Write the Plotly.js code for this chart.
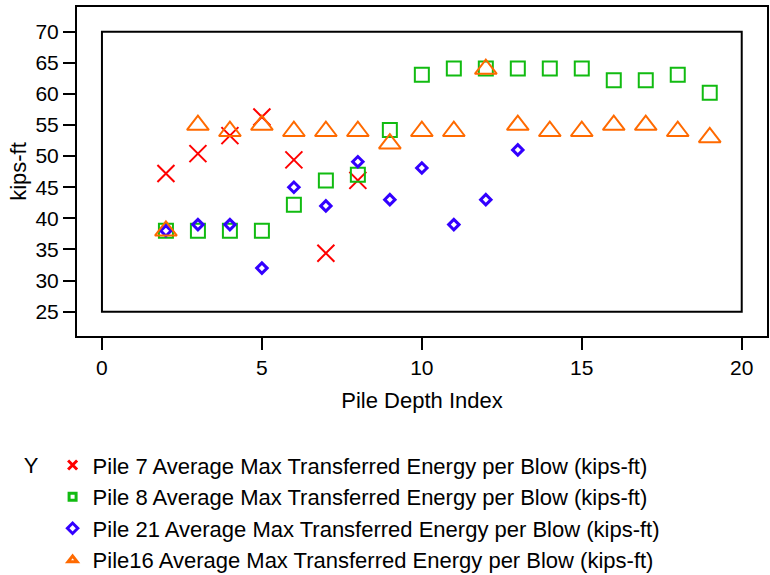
<!DOCTYPE html>
<html>
<head>
<meta charset="utf-8">
<script src="https://cdn.plot.ly/plotly-3.0.1.min.js"></script>
<style>html,body{margin:0;padding:0;background:#fff;}#chart{width:770px;height:575px;}</style>
</head>
<body>
<div id="chart"></div>
<script>
// Data
const pile7X = [2, 3, 4, 5, 6, 7, 8];
const pile7Y = [47.2, 50.4, 53.3, 56.3, 49.4, 34.4, 46.1];

const pile8X = [2, 3, 4, 5, 6, 7, 8, 9, 10, 11, 12, 13, 14, 15, 16, 17, 18, 19];
const pile8Y = [38, 38, 38, 38, 42.2, 46.1, 47, 54.2, 63.1, 64.1, 64.1, 64.1, 64.1, 64.1, 62.2, 62.2, 63.1, 60.2];

const pile21X = [2, 3, 4, 5, 6, 7, 8, 9, 10, 11, 12, 13];
const pile21Y = [38, 39, 39, 32, 45, 42, 49.1, 43, 48.1, 39, 43, 51];

const pile16X = [2, 3, 4, 5, 6, 7, 8, 9, 10, 11, 12, 13, 14, 15, 16, 17, 18, 19];
const pile16Y = [38, 55, 54, 55, 54, 54, 54, 52, 54, 54, 64, 55, 54, 54, 55, 55, 54, 53];

const seriesNames = [
  'Pile 7 Average Max Transferred Energy per Blow (kips-ft)',
  'Pile 8 Average Max Transferred Energy per Blow (kips-ft)',
  'Pile 21 Average Max Transferred Energy per Blow (kips-ft)',
  'Pile16 Average Max Transferred Energy per Blow (kips-ft)'
];

const xTickVals = [0, 5, 10, 15, 20];
const yTickVals = [25, 30, 35, 40, 45, 50, 55, 60, 65, 70];

const FONT = '"Liberation Sans", Arial, Helvetica, sans-serif';

const styles = [
  {symbol: 'x-thin-open', size: 17, legSize: 9, color: '#ff0000', width: 2, legWidth: 3},
  {symbol: 'square-open', size: 14, legSize: 7, color: '#11bb11', width: 2, legWidth: 3},
  {symbol: 'diamond-open', size: 8, legSize: 8, color: '#3300ff', width: 3, legWidth: 3},
  {symbol: 'triangle-up-open', size: 19, legSize: 8, color: '#ff6a00', width: 2, legWidth: 3}
];
const seriesX = [pile7X, pile8X, pile21X, pile16X];
const seriesY = [pile7Y, pile8Y, pile21Y, pile16Y];

const traces = [];
// Data traces (not in legend)
seriesX.forEach((xs, i) => {
  const s = styles[i];
  traces.push({x: xs, y: seriesY[i], name: seriesNames[i], type: 'scatter', mode: 'markers',
    showlegend: false, legendgroup: 'g' + i,
    marker: {symbol: s.symbol, size: s.size, color: s.color, line: {color: s.color, width: s.width}}});
});
// Legend entries with the smaller legend glyphs
seriesX.forEach((xs, i) => {
  const s = styles[i];
  traces.push({x: [null], y: [null], name: seriesNames[i], type: 'scatter', mode: 'markers',
    showlegend: true, legendgroup: 'g' + i, hoverinfo: 'skip',
    marker: {symbol: s.symbol, size: s.legSize, color: s.color, line: {color: s.color, width: s.legWidth}}});
});

const layout = {
  width: 770, height: 575,
  margin: {l: 77, r: 3, t: 7, b: 239, autoexpand: false},
  paper_bgcolor: '#ffffff', plot_bgcolor: '#ffffff',
  font: {family: FONT, size: 21, color: '#000000'},
  showlegend: true,
  xaxis: {
    range: [-0.78, 20.79], tickvals: xTickVals, ticktext: xTickVals.map(String),
    showgrid: false, zeroline: false,
    showline: true, mirror: true, linecolor: '#000', linewidth: 2,
    ticks: 'outside', ticklen: 12, tickwidth: 2, tickcolor: '#000',
    tickfont: {size: 21},
    title: {text: 'Pile Depth Index', font: {size: 22}, standoff: 14}
  },
  yaxis: {
    range: [21.09, 73.97], tickvals: yTickVals, ticktext: yTickVals.map(String),
    showgrid: false, zeroline: false,
    showline: true, mirror: true, linecolor: '#000', linewidth: 2,
    ticks: 'outside', ticklen: 12, tickwidth: 2, tickcolor: '#000',
    tickfont: {size: 21},
    title: {text: 'kips-ft', font: {size: 22}, standoff: 3}
  },
  shapes: [
    {type: 'rect', xref: 'x', yref: 'y', x0: 0, x1: 20, y0: 25, y1: 70,
     line: {color: '#000', width: 2}, fillcolor: 'rgba(0,0,0,0)', layer: 'below'}
  ],
  legend: {
    x: -0.08, xanchor: 'left', y: -0.329, yanchor: 'top',
    orientation: 'v',
    font: {size: 22},
    title: {text: 'Y\u00a0', side: 'left', font: {size: 22}},
    bgcolor: 'rgba(0,0,0,0)', borderwidth: 0, tracegroupgap: 0
  }
};

Plotly.newPlot('chart', traces, layout, {displayModeBar: false, staticPlot: true});
</script>
</body>
</html>
